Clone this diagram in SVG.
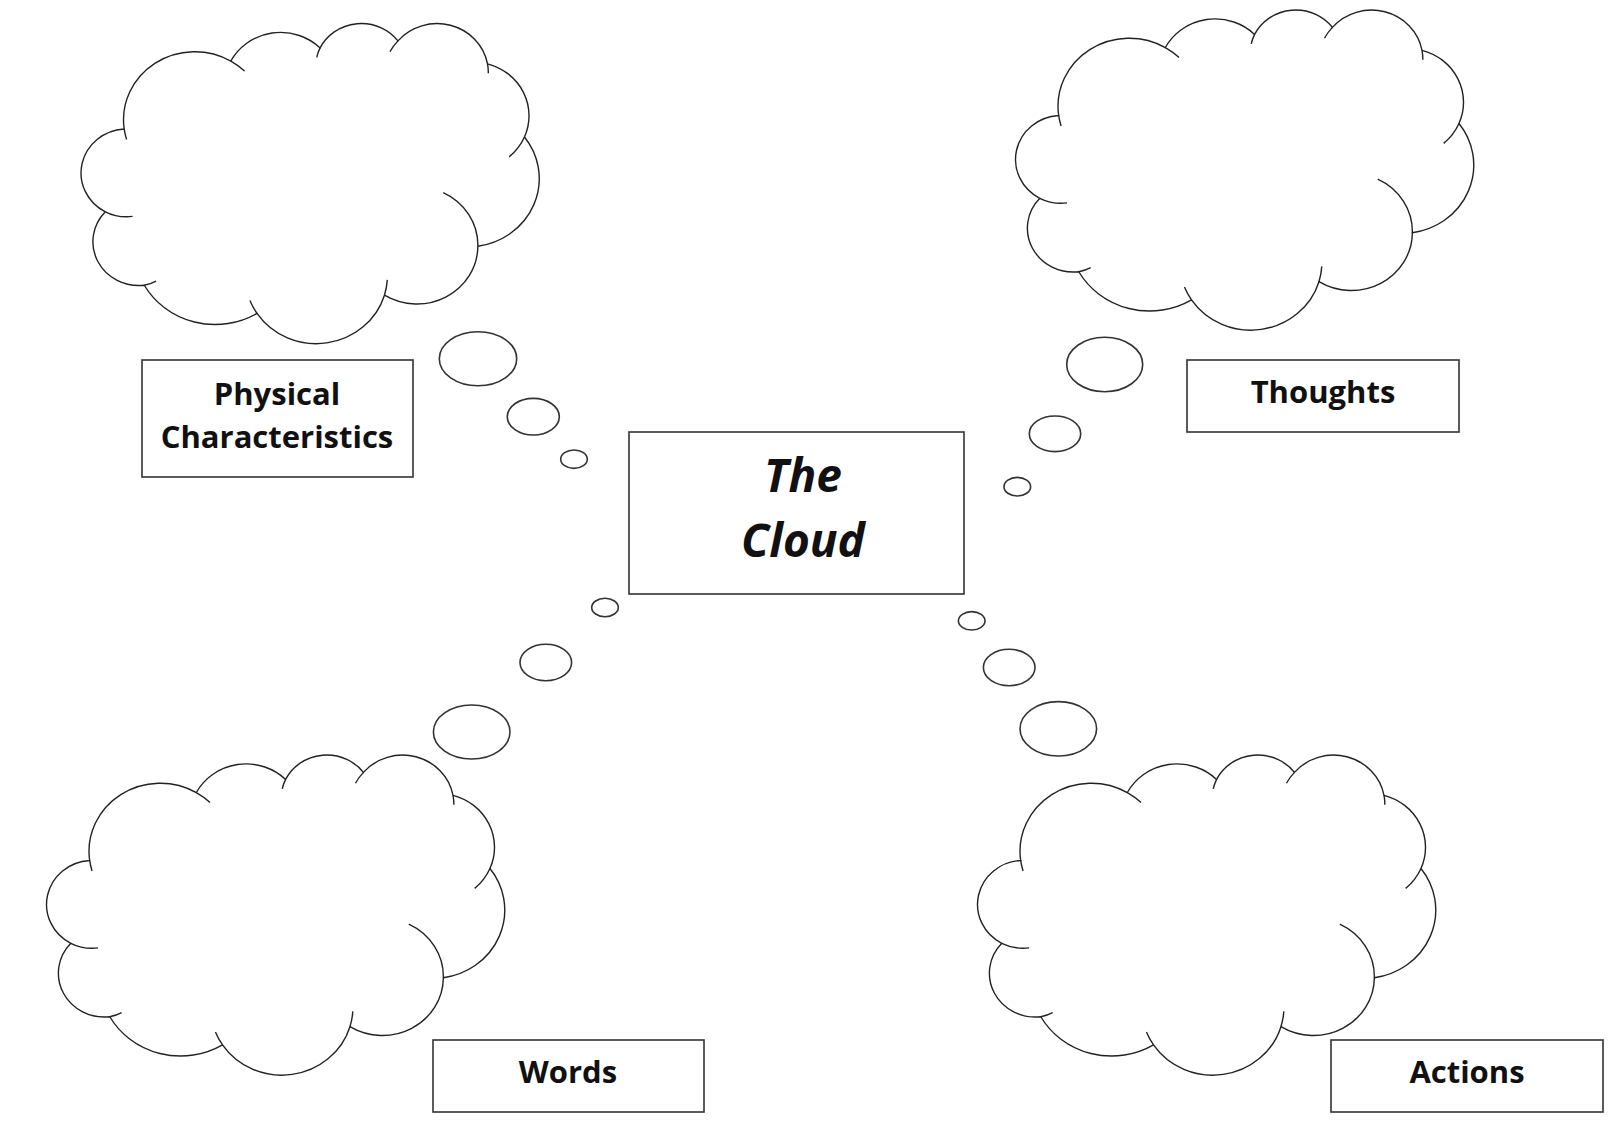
<svg xmlns="http://www.w3.org/2000/svg" xmlns:xlink="http://www.w3.org/1999/xlink" width="1612" height="1131" viewBox="0 0 1612 1131">
  <style>
    .cloud { fill: #ffffff; stroke: #222222; stroke-width: 1.4; vector-effect: non-scaling-stroke; }
    .tick { fill: none; stroke: #222222; stroke-width: 1.4; vector-effect: non-scaling-stroke; }
    .box { fill: #ffffff; stroke: #333333; stroke-width: 1.6; }
    .bubble { fill: #ffffff; stroke: #333333; stroke-width: 1.6; }
    .label { font-family: "Open Sans", "Liberation Sans", sans-serif; font-weight: bold; font-size: 31px; fill: #111111; text-anchor: middle; }
    .title { font-family: "Open Sans", "Liberation Sans", sans-serif; font-weight: bold; font-style: italic; font-size: 46px; fill: #111111; text-anchor: middle; }
  </style>
  <defs>
    <g id="cloud-shape">
      <path class="cloud" d="M 3900 14370 A 6753 9190 0 0 1 14004 5201 A 5333 7267 0 0 1 22459 3431 A 4365 5945 0 0 1 29836 2480 A 4857 6595 0 0 1 38321 5576 A 5333 7273 0 0 1 41821 15460 A 6775 9220 0 0 1 37407 30203 A 5785 7867 0 0 1 28558 36813 A 6752 9215 0 0 1 16484 39267 A 7720 10543 0 0 1 5806 35471 A 4360 5918 0 0 1 2114 25550 A 4345 5945 0 0 1 3900 14370 Z"/>
      <path class="tick" d="M 4127 15789 A 6753 9190 0 0 1 3900 14370 M 14004 5201 A 6753 9190 0 0 1 15307 6553 M 22141 4720 A 4365 5945 0 0 1 22459 3431 M 29078 3952 A 4857 6595 0 0 1 29836 2480 M 38321 5576 A 4857 6595 0 0 1 38397 6841 M 41821 15460 A 5333 7273 0 0 1 40372 18138 M 34129 22954 A 5785 7867 0 0 1 37407 30203 M 28827 34751 A 6752 9215 0 0 1 28558 36813 M 16484 39267 A 6752 9215 0 0 1 15815 37525 M 6928 34899 A 4360 5918 0 0 1 5806 35471 M 4693 26177 A 4345 5945 0 0 1 2114 25550"/>
    </g>
  </defs>
  <rect x="0" y="0" width="1612" height="1131" fill="#ffffff"/>

  <g id="cloud-physical">
    <use xlink:href="#cloud-shape" href="#cloud-shape" transform="translate(83 22.5) scale(0.010556 0.0074074)"/>
  </g>
  <g id="cloud-thoughts">
    <use xlink:href="#cloud-shape" href="#cloud-shape" transform="translate(1017.5 9) scale(0.010556 0.0074074)"/>
  </g>
  <g id="cloud-words">
    <use xlink:href="#cloud-shape" href="#cloud-shape" transform="translate(48.5 754) scale(0.010556 0.0074074)"/>
  </g>
  <g id="cloud-actions">
    <use xlink:href="#cloud-shape" href="#cloud-shape" transform="translate(979.5 754) scale(0.010556 0.0074074)"/>
  </g>

  <g id="connectors">
    <g id="trail-physical">
      <ellipse class="bubble" cx="478" cy="358.7" rx="38.7" ry="27"/>
      <ellipse class="bubble" cx="533.3" cy="416.7" rx="26" ry="18.3"/>
      <ellipse class="bubble" cx="574" cy="459.2" rx="13.3" ry="9.2"/>
    </g>
    <g id="trail-thoughts">
      <ellipse class="bubble" cx="1104.7" cy="364.5" rx="38" ry="27.2"/>
      <ellipse class="bubble" cx="1055" cy="433.8" rx="25.7" ry="17.8"/>
      <ellipse class="bubble" cx="1017.3" cy="486.7" rx="13.3" ry="9.3"/>
    </g>
    <g id="trail-words">
      <ellipse class="bubble" cx="605" cy="607.5" rx="13.3" ry="9.2"/>
      <ellipse class="bubble" cx="545.8" cy="662.5" rx="25.8" ry="18.2"/>
      <ellipse class="bubble" cx="471.7" cy="732" rx="38.3" ry="27"/>
    </g>
    <g id="trail-actions">
      <ellipse class="bubble" cx="971.7" cy="620.8" rx="13.3" ry="9.2"/>
      <ellipse class="bubble" cx="1009.2" cy="667.5" rx="25.8" ry="18.2"/>
      <ellipse class="bubble" cx="1058.3" cy="728.8" rx="38.3" ry="27.2"/>
    </g>
  </g>

  <g id="box-physical">
    <rect class="box" x="142" y="360" width="271" height="117"/>
    <text class="label" x="277" y="405">Physical</text>
    <text class="label" x="277" y="448">Characteristics</text>
  </g>
  <g id="box-center">
    <rect class="box" x="629" y="432" width="335" height="162"/>
    <text class="title" x="803" y="492">The</text>
    <text class="title" x="803" y="557">Cloud</text>
  </g>
  <g id="box-thoughts">
    <rect class="box" x="1187" y="360" width="272" height="72"/>
    <text class="label" x="1323" y="403">Thoughts</text>
  </g>
  <g id="box-words">
    <rect class="box" x="433" y="1040" width="271" height="72"/>
    <text class="label" x="568" y="1083">Words</text>
  </g>
  <g id="box-actions">
    <rect class="box" x="1331" y="1040" width="272" height="72"/>
    <text class="label" x="1467" y="1083">Actions</text>
  </g>
</svg>
